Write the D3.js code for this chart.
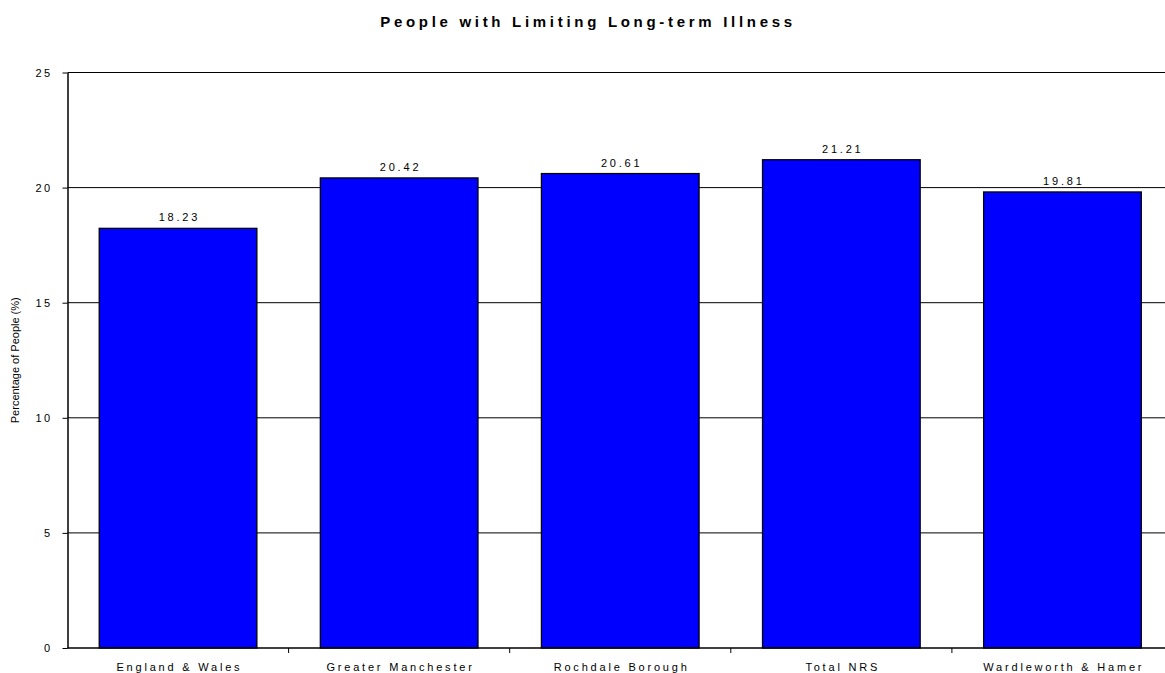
<!DOCTYPE html>
<html>
<head>
<meta charset="utf-8">
<script src="https://cdn.jsdelivr.net/npm/d3@7"></script>
<style>
    html, body { margin: 0; padding: 0; background: #fff; }
    svg { display: block; font-family: "Liberation Sans", Arial, sans-serif; }
</style>
</head>
<body>
<div id="chart"></div>
<script>
// People with Limiting Long-term Illness — simple column chart

var categories = ['England & Wales', 'Greater Manchester', 'Rochdale Borough', 'Total NRS', 'Wardleworth & Hamer'];
var values = [18.23, 20.42, 20.61, 21.21, 19.81];
var yTicks = [0, 5, 10, 15, 20, 25];

var chartTitle = 'People with Limiting Long-term Illness';
var yLabel = 'Percentage of People (%)';

function renderChart() {
    var width = 1165;
    var height = 673;
    var margin = { top: 72.5, left: 67.5, bottom: 648, right: 1173 };

    var svg = d3.select('#chart').append('svg')
        .attr('width', width)
        .attr('height', height);

    // Scales
    var xScale = d3.scaleBand()
        .domain(categories)
        .range([margin.left, margin.right])
        .paddingInner(0.287)
        .paddingOuter(0.1435);

    var yScale = d3.scaleLinear()
        .domain([0, 25])
        .range([margin.bottom, margin.top]);

    // Gridlines
    svg.append('g')
        .selectAll('line')
        .data(yTicks.slice(1))
        .join('line')
        .attr('x1', margin.left)
        .attr('x2', width)
        .attr('y1', function(d) { return yScale(d); })
        .attr('y2', function(d) { return yScale(d); })
        .attr('stroke', '#000')
        .attr('stroke-width', 1);

    // Bars
    svg.append('g')
        .selectAll('rect')
        .data(values)
        .join('rect')
        .attr('x', function(d, i) { return xScale(categories[i]); })
        .attr('y', function(d) { return yScale(d); })
        .attr('width', xScale.bandwidth())
        .attr('height', function(d) { return yScale(0) - yScale(d); })
        .attr('fill', '#0000ff')
        .attr('stroke', '#000')
        .attr('stroke-width', 1.3);

    // Value labels
    svg.append('g')
        .selectAll('text')
        .data(values)
        .join('text')
        .attr('x', function(d, i) { return xScale(categories[i]) + xScale.bandwidth() / 2 + 1.4; })
        .attr('y', function(d) { return yScale(d) - 7; })
        .attr('text-anchor', 'middle')
        .style('font-size', '11px')
        .style('letter-spacing', '2.8px')
        .attr('fill', '#000')
        .text(function(d) { return d.toFixed(2); });

    // Y axis
    var yAxis = svg.append('g')
        .attr('transform', 'translate(' + margin.left + ',0)')
        .call(d3.axisLeft(yScale).tickValues(yTicks).tickSize(5).tickPadding(10).tickSizeOuter(0));
    yAxis.select('.domain').attr('stroke', '#000').attr('stroke-width', 1.5);
    yAxis.selectAll('.tick line').attr('stroke', '#000');
    yAxis.selectAll('.tick text')
        .style('font-size', '11px')
        .style('letter-spacing', '2.4px')
        .style('font-family', '"Liberation Sans", Arial, sans-serif')
        .attr('fill', '#000');

    // X axis: ticks on the category boundaries
    var xAxisG = svg.append('g')
        .attr('transform', 'translate(0,' + margin.bottom + ')');
    xAxisG.append('line')
        .attr('x1', margin.left)
        .attr('x2', width)
        .attr('stroke', '#000')
        .attr('stroke-width', 1.5);
    var step = xScale.step();
    xAxisG.selectAll('line.tick')
        .data(categories.slice(1))
        .join('line')
        .attr('class', 'tick')
        .attr('x1', function(d) { return xScale(d) - step * 0.1435; })
        .attr('x2', function(d) { return xScale(d) - step * 0.1435; })
        .attr('y1', 0)
        .attr('y2', 5)
        .attr('stroke', '#000');
    xAxisG.selectAll('text')
        .data(categories)
        .join('text')
        .attr('x', function(d) { return xScale(d) + xScale.bandwidth() / 2 + 1.4; })
        .attr('y', 23)
        .attr('text-anchor', 'middle')
        .style('font-size', '11px')
        .style('letter-spacing', '2.8px')
        .attr('fill', '#000')
        .text(function(d) { return d; });

    // Y axis label
    svg.append('text')
        .attr('transform', 'translate(19,' + ((margin.top + margin.bottom) / 2) + ') rotate(-90)')
        .attr('text-anchor', 'middle')
        .style('font-size', '11px')
        .attr('fill', '#000')
        .text(yLabel);

    // Title
    svg.append('text')
        .attr('x', 588)
        .attr('y', 27)
        .attr('text-anchor', 'middle')
        .style('font-size', '15px')
        .style('font-weight', 'bold')
        .style('letter-spacing', '3.7px')
        .attr('fill', '#000')
        .text(chartTitle);
}

renderChart();
</script>
</body>
</html>
